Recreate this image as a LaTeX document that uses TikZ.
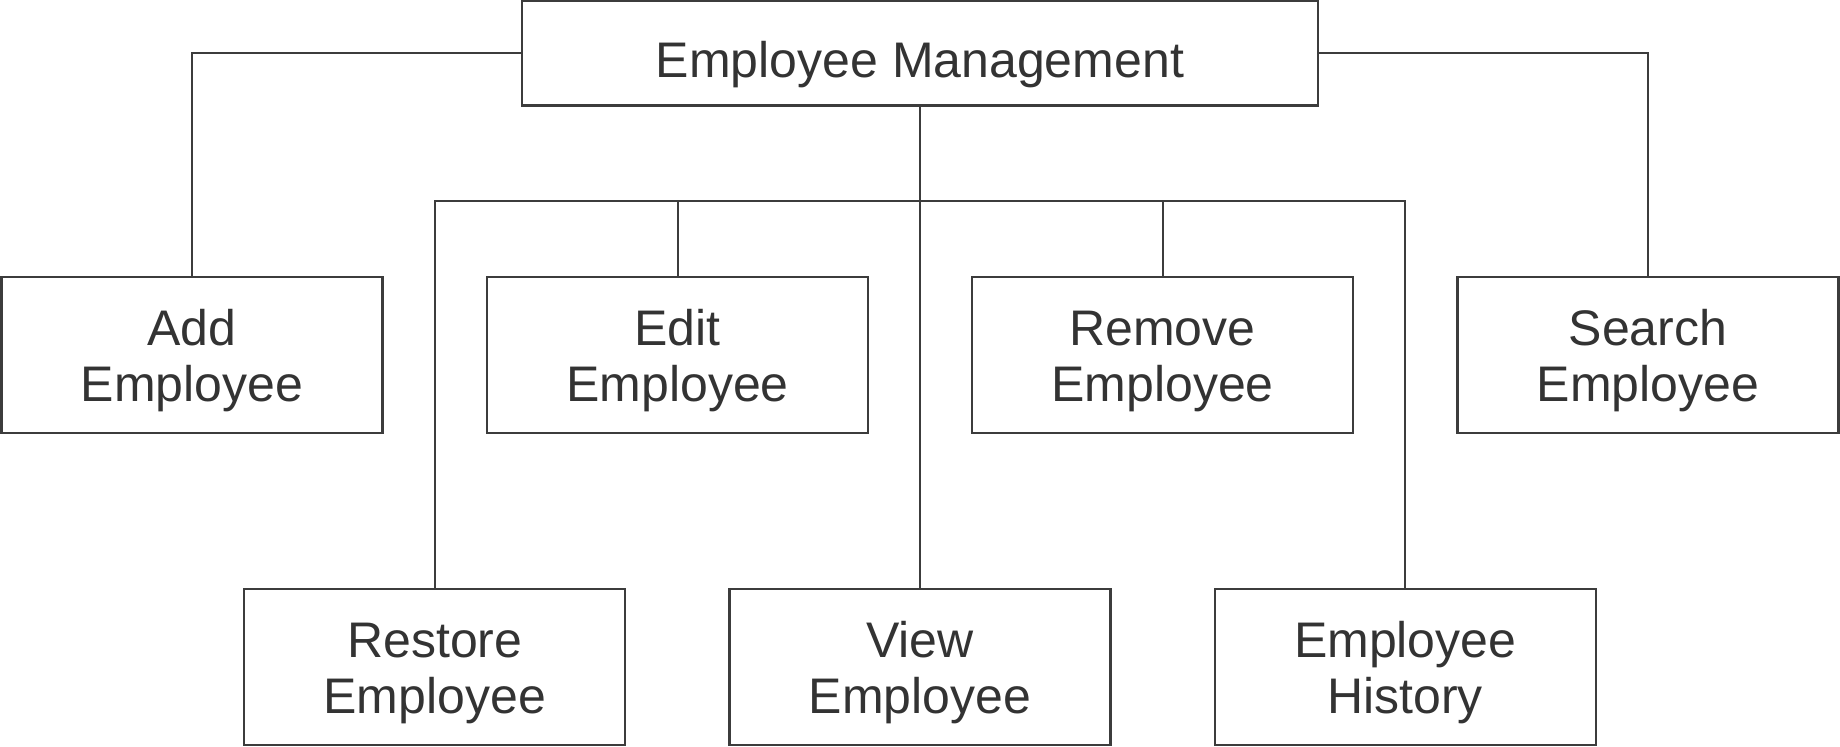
\documentclass[tikz,border=0pt]{standalone}
\usepackage{fontspec}
\setmainfont{Liberation Sans}
\definecolor{linec}{HTML}{3C3C3C}
\definecolor{textc}{HTML}{333333}
\newcommand{\toplift}{\rule{0pt}{29.2pt}}
\newcommand{\boxlift}{\rule{0pt}{23.6pt}}
\begin{document}
\begin{tikzpicture}[x=0.5pt,y=-0.5pt,
  box/.style={draw=linec, line width=1.1pt, rectangle, minimum width=190.5pt, minimum height=78pt, inner sep=0pt, align=center, text=textc, font=\fontsize{25}{28.3}\selectfont},
  topbox/.style={box, minimum width=398pt, minimum height=52.2pt},
  conn/.style={draw=linec, line width=1pt}]
\useasboundingbox (0,0) rectangle (1840,747);
\node[topbox] (top) at (920,53.4) {\toplift Employee Management};
\node[box] (add) at (192,355) {\boxlift Add\\Employee};
\node[box] (edit) at (677.5,355) {\boxlift Edit\\Employee};
\node[box] (remove) at (1162.5,355) {\boxlift Remove\\Employee};
\node[box] (search) at (1648,355) {\boxlift Search\\Employee};
\node[box] (restore) at (434.8,667) {\boxlift Restore\\Employee};
\node[box] (view) at (920,667) {\boxlift View\\Employee};
\node[box] (history) at (1405.2,667) {\boxlift Employee\\History};
\coordinate (bus) at (920,200.7);
\draw[conn] (top.west) -| (add.north);
\draw[conn] (top.east) -| (search.north);
\draw[conn] (top.south) -- (view.north);
\draw[conn] (restore.north) |- (bus) -| (history.north);
\draw[conn] (edit.north) -- (edit.north |- bus);
\draw[conn] (remove.north) -- (remove.north |- bus);
\end{tikzpicture}
\end{document}
